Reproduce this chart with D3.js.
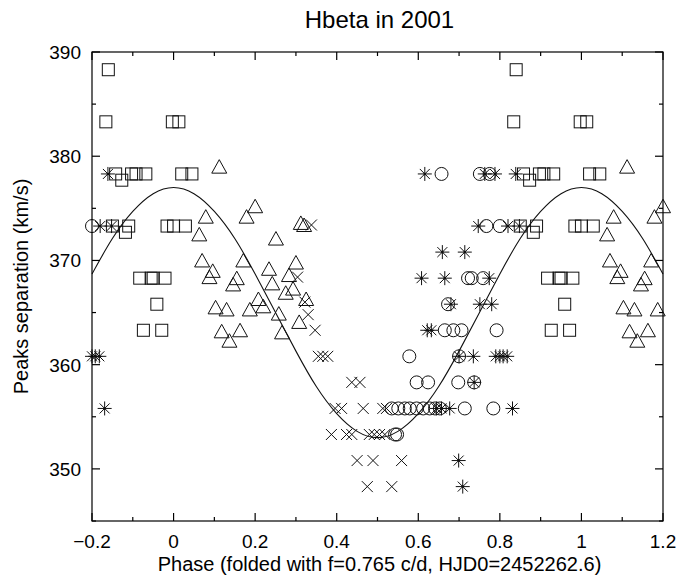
<!DOCTYPE html>
<html><head><meta charset="utf-8">
<script src="https://cdn.jsdelivr.net/npm/d3@7"></script>
<style>
html,body{margin:0;padding:0;background:#fff;}
svg text{font-family:"Liberation Sans",Arial,Helvetica,sans-serif;fill:#000;}
</style></head>
<body><svg id="c" width="693" height="578"></svg>
<script>
// ---- data: [phase (0..1), peak separation km/s] ----
const squares = [
  [0.840,388.3],[0.834,383.3],[0.997,383.3],[0.013,383.3],
  [0.858,378.3],[0.873,377.7],[0.897,378.3],[0.908,378.3],[0.932,378.3],[0.020,378.3],[0.045,378.3],
  [0.850,373.3],[0.890,373.3],[0.882,372.7],[0.984,373.3],[0.000,373.3],[0.029,373.3],
  [0.917,368.3],[0.945,368.3],[0.950,368.3],[0.979,368.3],
  [0.959,365.8],[0.926,363.3],[0.971,363.3]
];
const triangles = [
  [0.112,379.0],[0.079,374.2],[0.200,375.2],[0.179,374.2],[0.063,372.5],[0.251,372.1],
  [0.312,373.6],[0.320,373.4],[0.070,370.0],[0.096,369.0],[0.088,368.4],[0.171,370.0],
  [0.155,368.3],[0.146,367.7],[0.234,369.2],[0.242,367.8],[0.300,369.8],[0.283,368.6],
  [0.293,367.3],[0.275,366.9],[0.103,365.5],[0.130,365.3],[0.187,365.3],[0.208,366.3],
  [0.220,365.6],[0.258,364.9],[0.325,366.3],[0.308,364.1],[0.118,363.2],[0.163,363.3],
  [0.137,362.3],[0.266,363.1]
];
const circles = [
  [0.657,378.3],[0.751,378.3],[0.775,378.3],
  [0.767,373.3],[0.800,373.3],
  [0.722,368.3],[0.731,368.3],[0.759,368.3],
  [0.673,365.8],
  [0.665,363.3],[0.686,363.3],[0.706,363.3],[0.792,363.3],
  [0.578,360.8],[0.700,360.8],
  [0.596,358.3],[0.624,358.3],[0.698,358.3],[0.737,358.3],
  [0.535,355.8],[0.551,355.8],[0.567,355.8],[0.579,355.8],[0.596,355.8],[0.612,355.8],
  [0.628,355.8],[0.641,355.8],[0.653,355.8],[0.714,355.8],[0.784,355.8],
  [0.543,353.3],[0.548,353.3]
];
const asterisks = [
  [0.616,378.3],[0.763,378.3],[0.788,378.3],[0.839,378.3],
  [0.747,373.3],[0.820,373.3],[0.848,373.3],
  [0.659,370.8],[0.714,370.8],
  [0.608,368.3],[0.665,368.3],[0.774,368.3],
  [0.680,365.8],[0.751,365.8],[0.780,365.8],
  [0.622,363.3],[0.632,363.3],
  [0.700,360.8],[0.735,360.8],[0.790,360.8],[0.800,360.8],[0.808,360.8],[0.818,360.8],
  [0.737,358.3],
  [0.645,355.8],[0.657,355.8],[0.677,355.8],[0.831,355.8],
  [0.699,350.8],[0.709,348.3]
];
const crosses = [
  [0.338,373.4],[0.304,368.4],[0.322,366.0],[0.330,364.8],[0.347,363.3],
  [0.355,360.8],[0.366,360.8],[0.378,360.8],
  [0.437,358.3],[0.457,358.3],
  [0.396,355.8],[0.412,355.8],[0.465,355.8],[0.513,355.8],[0.522,355.8],
  [0.387,353.3],[0.424,353.3],[0.437,353.3],[0.480,353.3],[0.492,353.3],[0.505,353.3],[0.518,353.3],
  [0.450,350.8],[0.489,350.8],[0.559,350.8],
  [0.475,348.3],[0.535,348.3]
];
// fitted curve
const fitPhase = [-0.2,-0.15,-0.1,-0.05,0,0.05,0.1,0.15,0.2,0.25,0.3,0.35,0.4,0.45,0.5,0.55,0.6,0.65,0.7,0.75,0.8,0.85,0.9,0.95,1.0,1.05,1.1,1.15,1.2];
const fitValue = [368.7,372.1,374.7,376.4,377.0,376.4,374.7,372.1,368.7,365.0,361.3,357.9,355.3,353.6,353.0,353.6,355.3,357.9,361.3,365.0,368.7,372.1,374.7,376.4,377.0,376.4,374.7,372.1,368.7];
const xTicks = [-0.2,0,0.2,0.4,0.6,0.8,1,1.2];
const yTicks = [350,360,370,380,390];
const titleText = "Hbeta in 2001";
const xLabel = "Phase (folded with f=0.765 c/d, HJD0=2452262.6)";
const yLabel = "Peaks separation (km/s)";

// ---- layout ----
const L=92, R=663, T=52, B=521;
const svg = d3.select("#c");
const x = d3.scaleLinear().domain([-0.2,1.2]).range([L,R]);
const y = d3.scaleLinear().domain([345,390]).range([B,T]);

// wrap phases to the displayed range
function wrap(arr){
  const out=[];
  arr.forEach(([p,v])=>{[-1,0,1].forEach(k=>{const q=p+k; if(q>=-0.2-1e-9 && q<=1.2+1e-9) out.push([q,v]);});});
  return out;
}

const stroke="#111";
const g = svg.append("g");

// curve
g.append("path").datum(fitPhase.map((p,i)=>[p,fitValue[i]]))
 .attr("fill","none").attr("stroke",stroke).attr("stroke-width",1.1)
 .attr("d",d3.line().x(d=>x(d[0])).y(d=>y(d[1])).curve(d3.curveNatural));

const pts = g.append("g").attr("fill","none").attr("stroke",stroke).attr("stroke-width",1);
pts.selectAll(".sq").data(wrap(squares)).join("rect")
  .attr("x",d=>x(d[0])-6).attr("y",d=>y(d[1])-6).attr("width",12).attr("height",12);
pts.selectAll(".tr").data(wrap(triangles)).join("path")
  .attr("d",d=>{const cx=x(d[0]),cy=y(d[1]);return `M${cx},${cy-7}L${cx+7.5},${cy+6.5}L${cx-7.5},${cy+6.5}Z`;});
pts.selectAll(".ci").data(wrap(circles)).join("circle")
  .attr("cx",d=>x(d[0])).attr("cy",d=>y(d[1])).attr("r",6.5);
pts.selectAll(".as").data(wrap(asterisks)).join("path")
  .attr("d",d=>{const cx=x(d[0]),cy=y(d[1]),r=7,q=5;
    return `M${cx-r},${cy}L${cx+r},${cy}M${cx},${cy-r}L${cx},${cy+r}M${cx-q},${cy-q}L${cx+q},${cy+q}M${cx-q},${cy+q}L${cx+q},${cy-q}`;});
pts.selectAll(".cr").data(wrap(crosses)).join("path")
  .attr("d",d=>{const cx=x(d[0]),cy=y(d[1]),q=5.5;
    return `M${cx-q},${cy-q}L${cx+q},${cy+q}M${cx-q},${cy+q}L${cx+q},${cy-q}`;});
pts.selectAll(".ad").data(wrap(asterisks)).join("circle")
  .attr("cx",d=>x(d[0])).attr("cy",d=>y(d[1])).attr("r",1.3).attr("fill",stroke).attr("stroke","none");

// frame
const ax = svg.append("g").attr("stroke","#000").attr("stroke-width",1.2).attr("fill","none");
ax.append("rect").attr("x",L).attr("y",T).attr("width",R-L).attr("height",B-T);
const xMinor = d3.range(-0.2,1.2001,0.1);
xMinor.forEach(v=>{
  const major = Math.abs(Math.round(v*10)%2)===0;
  const len = major?8:4;
  ax.append("line").attr("x1",x(v)).attr("x2",x(v)).attr("y1",B).attr("y2",B-len);
  ax.append("line").attr("x1",x(v)).attr("x2",x(v)).attr("y1",T).attr("y2",T+len);
});
d3.range(345,390.01,5).forEach(v=>{
  const major = v%10===0;
  const len = major?8:4;
  ax.append("line").attr("x1",L).attr("x2",L+len).attr("y1",y(v)).attr("y2",y(v));
  ax.append("line").attr("x1",R).attr("x2",R-len).attr("y1",y(v)).attr("y2",y(v));
});
const fmt = v => (v<0?"\u2212":"") + String(Math.abs(Math.round(v*10)/10));
svg.append("g").selectAll("text").data(xTicks).join("text")
  .attr("x",d=>x(d)).attr("y",B+27).attr("text-anchor","middle").attr("font-size",19).text(fmt);
svg.append("g").selectAll("text").data(yTicks).join("text")
  .attr("x",L-11).attr("y",d=>y(d)+7).attr("text-anchor","end").attr("font-size",19).text(d=>d);
svg.append("text").attr("x",(L+R)/2+2).attr("y",28).attr("text-anchor","middle").attr("font-size",24).text(titleText);
svg.append("text").attr("x",(L+R)/2+2).attr("y",571).attr("text-anchor","middle").attr("font-size",20).text(xLabel);
svg.append("text").attr("transform",`translate(28,${(T+B)/2}) rotate(-90)`).attr("text-anchor","middle").attr("font-size",20).text(yLabel);
</script></body></html>
